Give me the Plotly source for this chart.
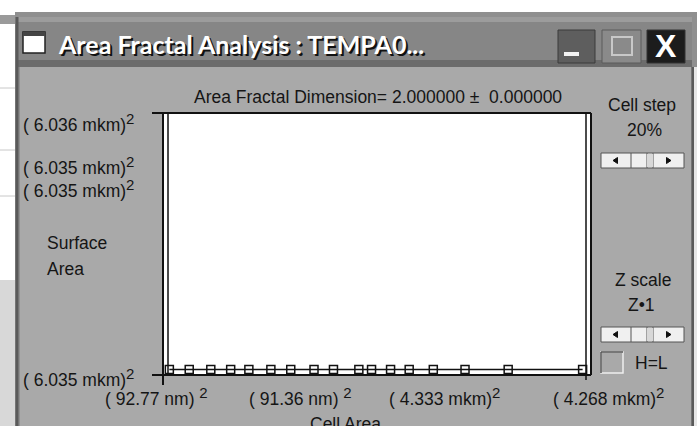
import plotly.graph_objects as go

# ---------------- data ----------------
cell_area_pos = [1.5, 6.2, 11.3, 16.0, 20.3, 25.5, 30.2, 35.7, 40.3, 46.3,
                 49.3, 53.8, 58.2, 63.9, 71.4, 81.6, 99.2]
surface_area = [6.035, 6.035, 6.035, 6.035, 6.035, 6.035, 6.035, 6.035, 6.035,
                6.035, 6.035, 6.035, 6.035, 6.035, 6.035, 6.035, 6.035]
SUP2 = "<sup><span style='font-size:15px'>2</span></sup>"
x_tick_labels = ["( 92.77 nm) " + SUP2, "( 91.36 nm) " + SUP2,
                 "( 4.333 mkm)" + SUP2, "( 4.268 mkm)" + SUP2]
y_tick_labels = ["( 6.036 mkm)" + SUP2, "( 6.035 mkm)" + SUP2,
                 "( 6.035 mkm)" + SUP2, "( 6.035 mkm)" + SUP2]
title_text = "Area Fractal Dimension= 2.000000 \u00b1  0.000000"
window_title = "Area Fractal Analysis : TEMPA0..."

# ---------------- layout helpers ----------------
W, H = 697, 426
L, R, T, B = 163, 111, 113, 51
PW, PH = W - L - R, H - T - B


def px(x):
    return (x - L) / PW


def py(y):
    return (H - B - y) / PH


shapes = []
annotations = []


def rect(x0, y0, x1, y1, fill, line=None, lw=0):
    shapes.append(dict(type="rect", xref="paper", yref="paper",
                       x0=px(x0), x1=px(x1), y0=py(y1), y1=py(y0),
                       fillcolor=fill, line=dict(color=line or fill, width=lw),
                       layer="below"))


def hline(x0, x1, y, color="#111111", w=2):
    shapes.append(dict(type="line", xref="paper", yref="paper",
                       x0=px(x0), x1=px(x1), y0=py(y), y1=py(y),
                       line=dict(color=color, width=w), layer="below"))


def vline(x, y0, y1, color="#111111", w=2):
    shapes.append(dict(type="line", xref="paper", yref="paper",
                       x0=px(x), x1=px(x), y0=py(y0), y1=py(y1),
                       line=dict(color=color, width=w), layer="below"))


def tri(cx, cy, right, s=3):
    if right:
        pts = [(cx - s / 2, cy - s), (cx - s / 2, cy + s), (cx + s, cy)]
    else:
        pts = [(cx + s / 2, cy - s), (cx + s / 2, cy + s), (cx - s, cy)]
    path = "M " + " L ".join(f"{px(a)},{py(b)}" for a, b in pts) + " Z"
    shapes.append(dict(type="path", xref="paper", yref="paper", path=path,
                       fillcolor="#111111", line=dict(color="#111111", width=1),
                       layer="below"))


def text(x, y, s, size=17.5, color="#151515", anchor="center",
         family="Liberation Sans, Arial, sans-serif", bold=False):
    if bold:
        s = "<b>" + s + "</b>"
    annotations.append(dict(x=px(x), y=py(y), xref="paper", yref="paper",
                            text=s, showarrow=False, xanchor=anchor, yanchor="middle",
                            font=dict(size=size, color=color, family=family)))


BODY = "#a9a9a9"

# background window strip on left
rect(0, 0, 15, 426, "#ffffff")
hline(0, 15, 88, "#c8c8c8", 1)
hline(0, 15, 150, "#c8c8c8", 1)
hline(0, 15, 196, "#c8c8c8", 1)
rect(0, 15, 15, 24, "#9a9a9a")
rect(0, 280, 15, 426, "#d8d8d8")

# window outer frame
rect(15, 12, 697, 426, "#8f8f8f")
# title bar
rect(17, 17, 692, 67, "#868686")
rect(17, 17, 692, 22, "#9c9c9c")
rect(17, 60, 692, 67, "#6c6c6c")
# body
rect(20, 67, 691, 426, BODY)
vline(17, 17, 426, "#5a5a5a", 3)
vline(693, 67, 426, "#5a5a5a", 3)
rect(694, 67, 697, 426, "#e6e6e6")

# title icon
rect(23, 32, 45, 53, "#ffffff", "#222222", 1.5)
rect(23, 32, 45, 36, "#444444")

# title bar buttons
rect(558, 30, 595, 63, "#5e5e5e", "#3a3a3a", 1)
rect(564, 52, 579, 56, "#f2f2f2")
rect(602, 30, 641, 63, "#8a8a8a", "#5a5a5a", 1)
rect(612, 37, 632, 55, "#8a8a8a", "#c8c8c8", 2)
rect(647, 30, 685, 63, "#1c1c1c", "#333333", 1)

# plot white area
rect(163, 113, 591, 375, "#ffffff")
# frame lines
hline(152, 591, 113)
hline(152, 591, 375)
vline(163, 113, 385)
vline(168, 113, 375, "#111111", 1.5)
vline(586, 113, 380, "#111111", 1.5)
vline(591, 113, 375)

# right panel controls
for sy in (153, 327):
    rect(601, sy, 684, sy + 15, "#f0f0f0", "#555555", 1)
    vline(631, sy, sy + 15, "#555555", 1)
    vline(647, sy, sy + 15, "#555555", 1)
    vline(653, sy, sy + 15, "#555555", 1)
    rect(647, sy + 1, 653, sy + 14, "#d8d8d8")
    tri(616, sy + 7.5, False)
    tri(668, sy + 7.5, True)
rect(601, 352, 623, 373, BODY, "#eeeeee", 1.5)
hline(601, 623, 352, "#555555", 1.5)
vline(601, 352, 373, "#555555", 1.5)

# ---------------- texts ----------------
TITLE_FONT = "Lato, Liberation Sans, sans-serif"
text(56 + 2, 44 + 2, window_title, size=25, color="#111111", anchor="left", family=TITLE_FONT, bold=True)
text(56, 44, window_title, size=25, color="#ffffff", anchor="left", family=TITLE_FONT, bold=True)
text(666, 46, "X", size=32, color="#ffffff", family="Liberation Sans, sans-serif", bold=True)

text(378, 97, title_text)
text(642, 105, "Cell step")
text(644, 130, "20%")
text(643, 280, "Z scale")
text(641, 305, "Z\u20221")
text(633, 363, "H=L", anchor="left")
text(45, 243, "Surface", anchor="left")
text(45, 269, "Area", anchor="left")
text(345, 424, "Cell Area")

y_label_pos = [123, 165, 188, 377]
for lab, yy in zip(y_tick_labels, y_label_pos):
    text(21, yy, lab, anchor="left")

x_label_pos = [103, 247, 387, 551]
for lab, xx in zip(x_tick_labels, x_label_pos):
    text(xx, 396, lab, anchor="left")

# ---------------- figure ----------------
fig = go.Figure()
fig.add_trace(go.Scatter(
    x=cell_area_pos, y=surface_area, mode="lines+markers",
    line=dict(color="#111111", width=1.5),
    marker=dict(symbol="square-open", size=8, color="#111111", line=dict(width=1.5)),
    cliponaxis=False, hoverinfo="skip"))

fig.update_layout(
    width=W, height=H, autosize=False,
    margin=dict(l=L, r=R, t=T, b=B, pad=0),
    paper_bgcolor="#ffffff", plot_bgcolor="rgba(0,0,0,0)",
    showlegend=False,
    xaxis=dict(range=[0, 100], visible=False, fixedrange=True),
    yaxis=dict(range=[6.034978, 6.036028], visible=False, fixedrange=True),
    shapes=shapes, annotations=annotations,
)

fig.write_html("out.html", config=dict(displayModeBar=False),
               post_script="document.body.style.margin='0px';document.body.style.overflow='hidden';")
